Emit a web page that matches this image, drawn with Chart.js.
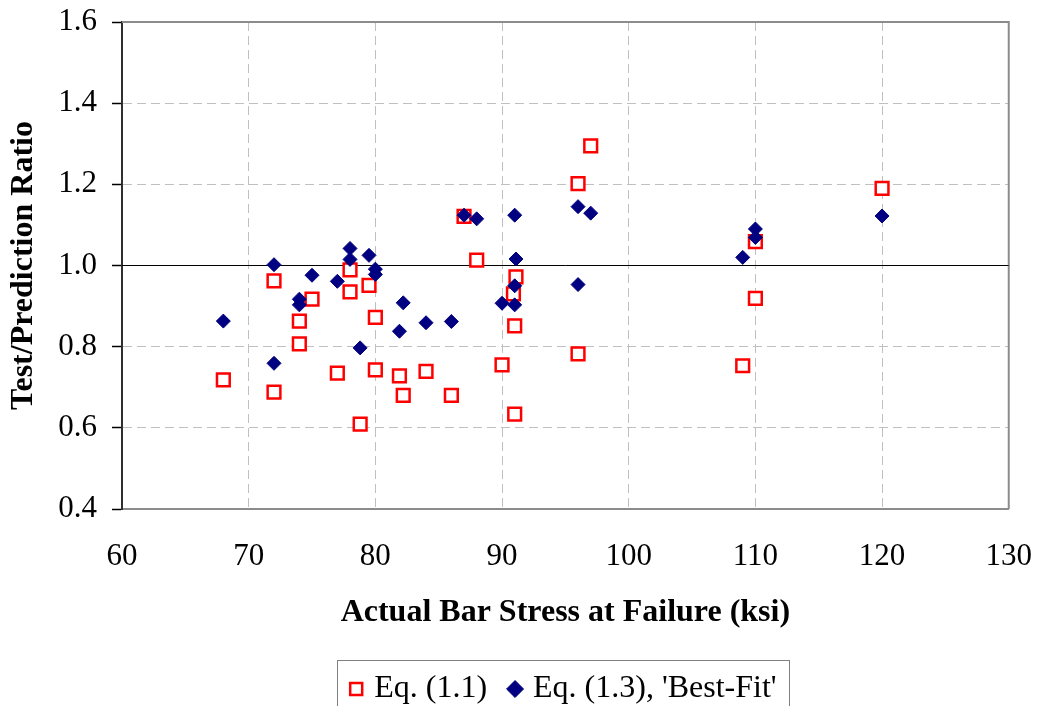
<!DOCTYPE html>
<html>
<head>
<meta charset="utf-8">
<title>Test/Prediction Ratio vs Actual Bar Stress</title>
<script src="https://cdn.jsdelivr.net/npm/chart.js@4.4.1/dist/chart.umd.min.js"></script>
<style>
  html, body { margin: 0; padding: 0; background: #fff; }
  #wrap { width: 1037px; height: 706px; overflow: hidden; position: relative; }
  /* the legend box is cut by the bottom edge, so the canvas runs a bit past it */
  #inner { width: 1037px; height: 716px; position: relative; }
</style>
</head>
<body>
<div id="wrap"><div id="inner"><canvas id="chart"></canvas></div></div>
<script>
// axis ticks
const xTicks = [60, 70, 80, 90, 100, 110, 120, 130];
const yTicks = [0.4, 0.6, 0.8, 1.0, 1.2, 1.4, 1.6];

// Eq. (1.1) – open red squares
const eq11Stress = [68, 72, 72, 74, 74, 75, 77, 78, 78, 79.5, 80, 80, 78.8, 81.9, 82.2, 84, 86,
                    87, 88, 90, 91.1, 90.9, 91, 91, 96, 96, 97, 109, 110, 110, 120];
const eq11Ratio  = [0.718, 0.962, 0.688, 0.863, 0.807, 0.917, 0.735, 0.989, 0.935, 0.951, 0.872,
                    0.743, 0.609, 0.728, 0.680, 0.739, 0.680, 1.121, 1.013, 0.755, 0.972, 0.930,
                    0.851, 0.634, 1.202, 0.782, 1.295, 0.753, 1.059, 0.919, 1.190];

// Eq. (1.3), 'Best-Fit' – navy diamonds
const eq13Stress = [68, 72, 72, 74, 74, 75, 77, 78, 78, 79.5, 80, 80, 78.8, 82.2, 81.9, 84, 86,
                    87, 88, 90, 91.1, 91, 91, 91, 96, 96, 97, 109, 110, 110, 120];
const eq13Ratio  = [0.863, 1.002, 0.759, 0.917, 0.903, 0.976, 0.961, 1.042, 1.015, 1.025, 0.991,
                    0.978, 0.797, 0.908, 0.838, 0.859, 0.862, 1.124, 1.115, 0.907, 1.016, 0.950,
                    0.903, 1.124, 1.145, 0.953, 1.129, 1.020, 1.090, 1.069, 1.122];

// ratio = 1.0 reference line
const unityStress = [60, 130];
const unityRatio = [1.0, 1.0];

const SERIF = "'Liberation Serif', 'Times New Roman', serif";

function pairs(xs, ys) {
  return xs.map((x, i) => ({ x: x, y: ys[i] }));
}

// gray top/right edge of the plot area + the box round the legend
const framePlugin = {
  id: "frame",
  beforeDatasetsDraw(chart) {
    const { ctx, chartArea: a } = chart;
    ctx.save();
    ctx.strokeStyle = "#8c8c8c";
    ctx.lineWidth = 2;
    ctx.beginPath();
    ctx.moveTo(a.left, a.top);
    ctx.lineTo(a.right, a.top);
    ctx.lineTo(a.right, a.bottom);
    ctx.stroke();
    ctx.restore();
  },
  afterDraw(chart) {
    const boxes = chart.legend && chart.legend.legendHitBoxes;
    if (!boxes || !boxes.length) return;
    const first = boxes[0];
    const last = boxes[boxes.length - 1];
    const { ctx } = chart;
    const left = Math.round(first.left - 17) + 0.5;
    const right = Math.round(last.left + last.width + 12) + 0.5;
    const top = Math.round(first.top - 13) + 0.5;
    ctx.save();
    ctx.strokeStyle = "#808080";
    ctx.lineWidth = 1;
    ctx.strokeRect(left, top, right - left, chart.height + 10 - top);
    ctx.restore();
  }
};

new Chart(document.getElementById("chart"), {
  type: "scatter",
  data: {
    datasets: [
      {
        label: "Eq. (1.1)",
        data: pairs(eq11Stress, eq11Ratio),
        pointStyle: "rect",
        pointRadius: 9,
        pointHoverRadius: 9,
        borderColor: "#ff0000",
        backgroundColor: "#ffffff",
        borderWidth: 2.5,
        order: 2
      },
      {
        label: "Eq. (1.3), 'Best-Fit'",
        data: pairs(eq13Stress, eq13Ratio),
        pointStyle: "rectRot",
        pointRadius: 7,
        pointHoverRadius: 7,
        borderColor: "#000080",
        backgroundColor: "#000080",
        borderWidth: 1,
        order: 1
      },
      {
        label: "unity",
        data: pairs(unityStress, unityRatio),
        showLine: true,
        pointRadius: 0,
        borderColor: "#000000",
        borderWidth: 1,
        order: 3
      }
    ]
  },
  options: {
    responsive: true,
    maintainAspectRatio: false,
    animation: false,
    layout: { padding: { top: 22, right: 4, bottom: 1, left: 0 } },
    plugins: {
      tooltip: { enabled: false },
      legend: {
        position: "bottom",
        fullSize: false,
        labels: {
          usePointStyle: true,
          boxWidth: 4,
          boxHeight: 12,
          padding: 26,
          color: "#000",
          font: { family: SERIF, size: 32 },
          filter: (item) => item.text !== "unity",
          sort: (a, b) => a.datasetIndex - b.datasetIndex
        }
      }
    },
    scales: {
      x: {
        type: "linear",
        min: 60,
        max: 130,
        afterBuildTicks: (s) => { s.ticks = xTicks.map((v) => ({ value: v })); },
        afterFit: (s) => { s.height = 138; },
        ticks: {
          color: "#000",
          padding: 5,
          font: { family: SERIF, size: 31 },
          callback: (v) => String(v)
        },
        grid: {
          color: "#c0c0c0",
          lineWidth: 1,
          drawTicks: true,
          tickLength: 24,
          tickColor: "rgba(0,0,0,0)"
        },
        border: { display: true, color: "#8c8c8c", width: 2, dash: [9, 5] },
        title: {
          display: true,
          text: "Actual Bar Stress at Failure (ksi)",
          color: "#000",
          font: { family: SERIF, size: 32, weight: "bold" },
          padding: { top: 0, bottom: 15 }
        }
      },
      y: {
        type: "linear",
        min: 0.4,
        max: 1.6,
        afterBuildTicks: (s) => { s.ticks = yTicks.map((v) => ({ value: v })); },
        afterFit: (s) => { s.width = 122; },
        ticks: {
          color: "#000",
          padding: 15,
          font: { family: SERIF, size: 31, lineHeight: 0.4 },
          callback: (v) => Number(v).toFixed(1)
        },
        grid: {
          color: "#c0c0c0",
          lineWidth: 1,
          drawTicks: true,
          tickLength: 10,
          tickColor: "#000",
          tickWidth: 1.5
        },
        border: { display: true, color: "#303030", width: 2, dash: [9, 5] },
        title: {
          display: true,
          text: "Test/Prediction Ratio",
          color: "#000",
          font: { family: SERIF, size: 32, weight: "bold" },
          padding: { top: 5, bottom: 0 }
        }
      }
    }
  },
  plugins: [framePlugin]
});
</script>
</body>
</html>
